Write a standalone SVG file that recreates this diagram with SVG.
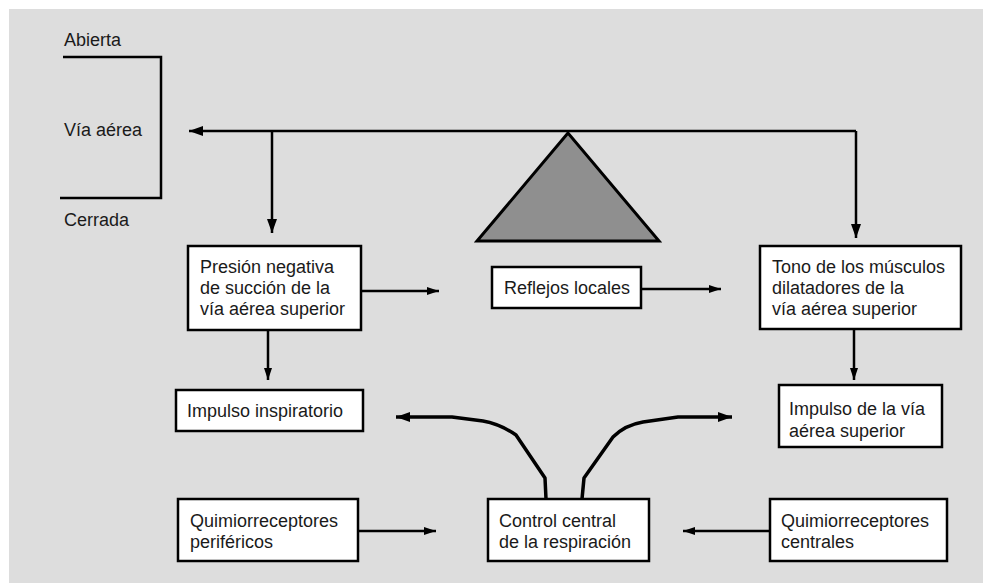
<svg xmlns="http://www.w3.org/2000/svg" width="983" height="583" viewBox="0 0 983 583">
<defs>
<style>
.bg{fill:#dddddd}
.box{fill:#ffffff;stroke:#000;stroke-width:2.5}
.t{font-family:"Liberation Sans",Arial,sans-serif;font-size:18px;fill:#1a1a1a}
.ln{fill:none;stroke:#000;stroke-width:2.5}
.cv{fill:none;stroke:#000;stroke-width:3.5;stroke-linejoin:round}
.tri{fill:#8f8f8f;stroke:#000;stroke-width:3}
</style>
<marker id="ah" viewBox="0 0 14 10" refX="14" refY="5" markerWidth="14" markerHeight="10" markerUnits="userSpaceOnUse" orient="auto">
<path d="M0,0 L14,5 L0,10 Z" fill="#000"/>
</marker>
<marker id="ahs" viewBox="0 0 12 8" refX="12" refY="4" markerWidth="12" markerHeight="8" markerUnits="userSpaceOnUse" orient="auto">
<path d="M0,0 L12,4 L0,8 Z" fill="#000"/>
</marker>
</defs>
<rect class="bg" x="9" y="9" width="974" height="574"/>

<g id="airway">
<path class="ln" d="M63,57 H161 V198 H60"/>
<text class="t" x="64" y="46">Abierta</text>
<text class="t" x="64" y="136">Vía aérea</text>
<text class="t" x="64" y="226">Cerrada</text>
</g>

<g id="fulcrum">
<polygon class="tri" points="568,133 477,241 659,241"/>
</g>

<g id="connectors">
<path class="ln" d="M856,131 H189" marker-end="url(#ah)"/>
<path class="ln" d="M272,131 V233" marker-end="url(#ah)"/>
<path class="ln" d="M856,131 V238" marker-end="url(#ah)"/>
<path class="ln" d="M361,291 H439" marker-end="url(#ahs)"/>
<path class="ln" d="M641,289 H721" marker-end="url(#ahs)"/>
<path class="ln" d="M268,330 V380" marker-end="url(#ahs)"/>
<path class="ln" d="M854,329 V380" marker-end="url(#ahs)"/>
<path class="ln" d="M358,531 H436" marker-end="url(#ahs)"/>
<path class="ln" d="M770,531 H683" marker-end="url(#ahs)"/>
<path class="cv" d="M546,499 L545,478 L516,435 Q500,424 483,421 L452,417 L396,417" marker-end="url(#ah)"/>
<path class="cv" d="M582,499 L584,478 L613,437 Q625,425 643,422 L678,417 L732,417" marker-end="url(#ah)"/>
</g>

<g id="presion">
<rect class="box" x="188" y="246" width="173" height="84"/>
<text class="t" x="200" y="273">Presión negativa</text>
<text class="t" x="200" y="294">de succión de la</text>
<text class="t" x="200" y="315">vía aérea superior</text>
</g>

<g id="reflejos">
<rect class="box" x="492" y="267" width="149" height="41"/>
<text class="t" x="504" y="294">Reflejos locales</text>
</g>

<g id="tono">
<rect class="box" x="760" y="246" width="201" height="83"/>
<text class="t" x="772" y="273">Tono de los músculos</text>
<text class="t" x="772" y="294">dilatadores de la</text>
<text class="t" x="772" y="315">vía aérea superior</text>
</g>

<g id="impulso-insp">
<rect class="box" x="176" y="390" width="187" height="41"/>
<text class="t" x="187" y="417">Impulso inspiratorio</text>
</g>

<g id="impulso-vas">
<rect class="box" x="779" y="385" width="163" height="62"/>
<text class="t" x="789" y="415">Impulso de la vía</text>
<text class="t" x="789" y="437">aérea superior</text>
</g>

<g id="quimio-perif">
<rect class="box" x="178" y="499" width="180" height="62"/>
<text class="t" x="190" y="527">Quimiorreceptores</text>
<text class="t" x="190" y="548">periféricos</text>
</g>

<g id="control">
<rect class="box" x="488" y="499" width="161" height="62"/>
<text class="t" x="499" y="527">Control central</text>
<text class="t" x="499" y="548">de la respiración</text>
</g>

<g id="quimio-cent">
<rect class="box" x="770" y="499" width="177" height="62"/>
<text class="t" x="781" y="527">Quimiorreceptores</text>
<text class="t" x="781" y="548">centrales</text>
</g>
</svg>
